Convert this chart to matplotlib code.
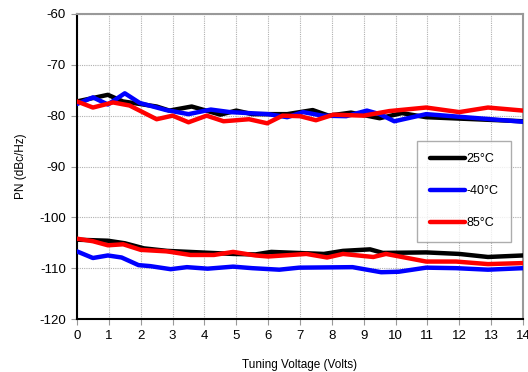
import matplotlib
matplotlib.use("Agg")
import matplotlib.pyplot as plt

plt.rcParams['font.family'] = ['Liberation Sans', 'DejaVu Sans']
plt.rcParams['axes.unicode_minus'] = False

# 25°C
v_25_hi = [0, 0.97, 1.44, 2.5, 2.9, 3.6, 4.5, 5.0, 5.5, 6.6, 7.4, 7.9, 8.6, 9.5, 10.2, 10.96, 14]
pn_25_hi = [-77.2, -75.9, -77.2, -78.2, -79.0, -78.2, -79.8, -79.0, -79.7, -79.7, -78.9, -80.0, -79.4, -80.5, -79.5, -80.3, -81.1]
v_25_lo = [0, 0.97, 1.5, 2.1, 2.83, 3.87, 4.9, 5.6, 6.1, 6.9, 7.75, 8.35, 9.2, 9.6, 10.96, 12.0, 12.9, 14]
pn_25_lo = [-104.4, -104.6, -105.1, -106.1, -106.6, -106.9, -107.2, -107.3, -106.8, -107.0, -107.2, -106.6, -106.3, -107.0, -106.9, -107.2, -107.8, -107.5]

# -40°C
v_m40_hi = [0, 0.5, 0.97, 1.5, 1.97, 2.8, 3.5, 4.2, 4.8, 6.0, 6.6, 7.1, 7.7, 8.45, 9.1, 9.5, 9.96, 10.96, 14]
pn_m40_hi = [-77.7, -76.4, -77.8, -75.6, -77.5, -78.9, -79.7, -78.8, -79.3, -79.7, -80.3, -79.3, -80.0, -80.1, -79.0, -79.7, -81.1, -79.7, -81.2]
v_m40_lo = [0, 0.5, 0.97, 1.4, 1.93, 2.3, 2.94, 3.45, 4.1, 4.9, 5.5, 6.35, 6.97, 8.65, 9.55, 10.1, 10.96, 11.9, 12.9, 14]
pn_m40_lo = [-106.7, -108.0, -107.5, -107.9, -109.4, -109.6, -110.2, -109.8, -110.1, -109.7, -110.0, -110.3, -109.9, -109.8, -110.8, -110.7, -109.9, -110.0, -110.3, -110.0]

# 85°C
v_85_hi = [0, 0.5, 1.13, 1.65, 2.5, 3.0, 3.5, 4.07, 4.6, 5.4, 5.97, 6.45, 7.0, 7.5, 8.05, 9.0, 9.8, 10.96, 12.0, 12.9, 14]
pn_85_hi = [-77.2, -78.4, -77.4, -78.0, -80.7, -80.0, -81.3, -80.0, -81.1, -80.7, -81.5, -80.0, -80.1, -80.9, -79.8, -80.0, -79.1, -78.4, -79.3, -78.4, -79.0]
v_85_lo = [0, 0.5, 0.97, 1.45, 2.0, 2.83, 3.56, 4.3, 4.9, 5.6, 6.0, 7.2, 7.85, 8.35, 9.3, 9.7, 10.96, 11.9, 12.9, 14]
pn_85_lo = [-104.2, -104.7, -105.5, -105.3, -106.4, -106.7, -107.4, -107.4, -106.8, -107.5, -107.7, -107.2, -107.9, -107.2, -107.8, -107.2, -108.7, -108.7, -109.2, -109.0]

x_ticks = list(range(0, 15))
y_ticks = [-120, -110, -100, -90, -80, -70, -60]

fig = plt.figure(figsize=(5.28, 3.72), dpi=100)
ax = fig.add_axes([77/528, 1-319/372, (523-77)/528, (319-14)/372])

lw = 3.2
kw = dict(linewidth=lw, solid_joinstyle='round', solid_capstyle='round')
l1, = ax.plot(v_25_hi, pn_25_hi, color='black', label='25°C', zorder=3, **kw)
ax.plot(v_25_lo, pn_25_lo, color='black', zorder=3, **kw)
l2, = ax.plot(v_m40_hi, pn_m40_hi, color='#0000ff', label='-40°C', zorder=4, **kw)
ax.plot(v_m40_lo, pn_m40_lo, color='#0000ff', zorder=4, **kw)
l3, = ax.plot(v_85_hi, pn_85_hi, color='#ff0000', label='85°C', zorder=5, **kw)
ax.plot(v_85_lo, pn_85_lo, color='#ff0000', zorder=5, **kw)

ax.set_xlim(0, 14)
ax.set_ylim(-120, -60)
ax.set_xticks(x_ticks)
ax.set_yticks(y_ticks)
ax.grid(True, color='#b0b0b0', linestyle=(0, (1, 1)), linewidth=0.8)
ax.set_axisbelow(True)
for s in ['top', 'right']:
    ax.spines[s].set_color('#999999')
    ax.spines[s].set_linewidth(1.5)
for s in ['left', 'bottom']:
    ax.spines[s].set_color('black')
    ax.spines[s].set_linewidth(1.5)
ax.tick_params(direction='out', length=4, width=0.8, color='#999999', labelsize=9.5, pad=4)

ax.set_xlabel('Tuning Voltage (Volts)', fontsize=8.5, labelpad=12)
ax.set_ylabel('PN (dBc/Hz)', fontsize=8.5, labelpad=9)

leg = ax.legend(handles=[l1, l2, l3], loc='upper left', bbox_to_anchor=((417-77)/446, 1-(141-14)/305),
                frameon=True, fancybox=False, edgecolor='#999999', fontsize=9,
                handlelength=2.8, handletextpad=0.15, labelspacing=1.6, borderpad=1.0,
                borderaxespad=0)
leg.get_frame().set_linewidth(1.0)

fig.savefig('out.png', dpi=100)
